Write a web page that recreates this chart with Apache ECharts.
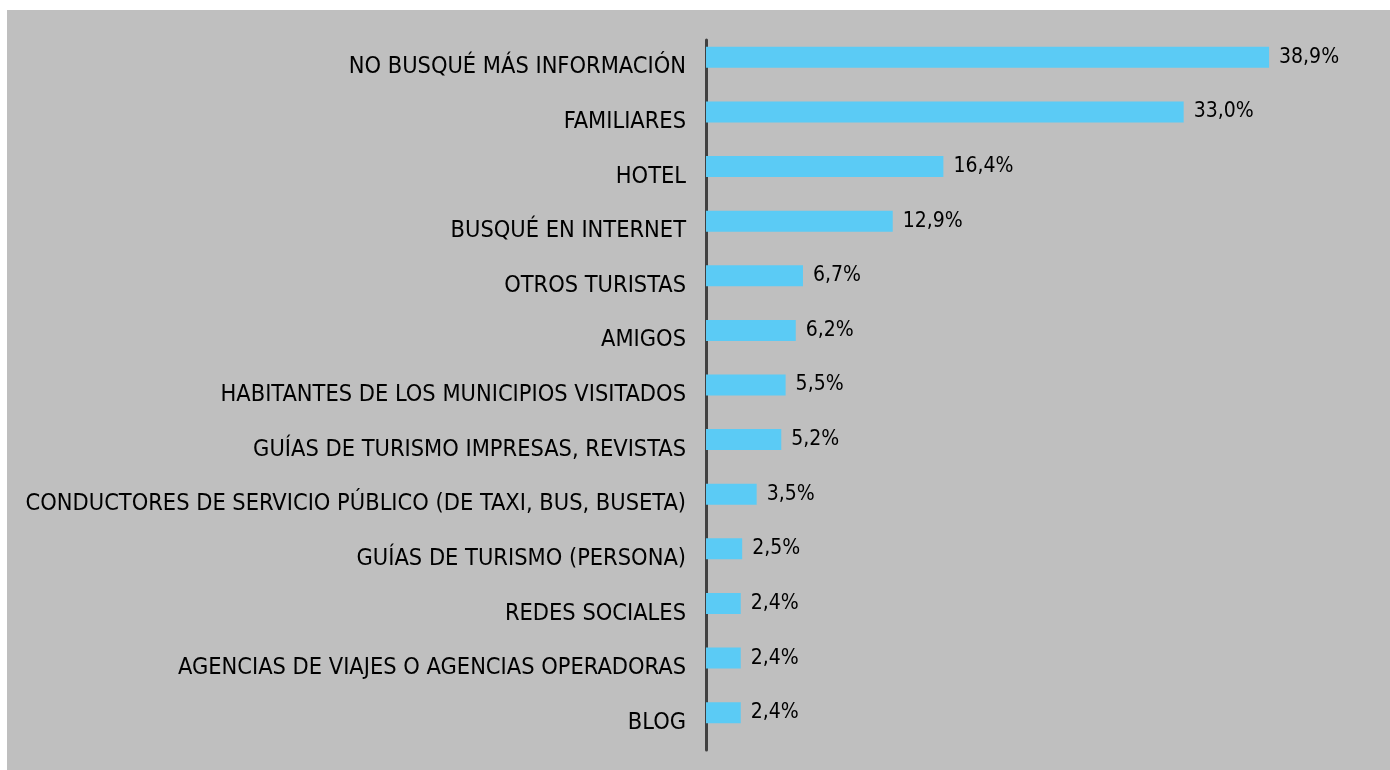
<!DOCTYPE html>
<html>
<head>
<meta charset="utf-8">
<script src="https://cdn.jsdelivr.net/npm/echarts@6/dist/echarts.min.js"></script>
<style>
  html, body { margin: 0; padding: 0; background: #ffffff; }
  #main { position: absolute; left: 7px; top: 10px; width: 1383px; height: 760px; background: #bfbfbf; }
</style>
</head>
<body>
<div id="main"></div>
<script>
// categorias, de arriba hacia abajo
var categorias = [
  'NO BUSQUÉ MÁS INFORMACIÓN',
  'FAMILIARES',
  'HOTEL',
  'BUSQUÉ EN INTERNET',
  'OTROS TURISTAS',
  'AMIGOS',
  'HABITANTES DE LOS MUNICIPIOS VISITADOS',
  'GUÍAS DE TURISMO IMPRESAS, REVISTAS',
  'CONDUCTORES DE SERVICIO PÚBLICO (DE TAXI, BUS, BUSETA)',
  'GUÍAS DE TURISMO (PERSONA)',
  'REDES SOCIALES',
  'AGENCIAS DE VIAJES O AGENCIAS OPERADORAS',
  'BLOG'
];
var porcentajes = [38.9, 33.0, 16.4, 12.9, 6.7, 6.2, 5.5, 5.2, 3.5, 2.5, 2.4, 2.4, 2.4];
// serie vacia solo para desplazar las barras hacia arriba dentro de cada categoria
var vacio = categorias.map(function () { return 0; });

var fuente = '"DejaVu Sans Condensed", "DejaVu Sans", sans-serif';

var myChart = echarts.init(document.getElementById('main'));

var option = {
  animation: false,
  grid: {
    left: 699,
    top: 30,
    width: 579,
    bottom: 20
  },
  xAxis: {
    type: 'value',
    min: 0,
    max: 40,
    show: false
  },
  yAxis: {
    type: 'category',
    inverse: true,
    data: categorias,
    axisLine: { show: true, lineStyle: { color: '#404040', width: 3 } },
    axisTick: { show: false },
    axisLabel: {
      margin: 20,
      color: '#000000',
      fontSize: 23.4,
      fontFamily: fuente
    }
  },
  series: [{
    type: 'bar',
    data: porcentajes,
    barWidth: 21,
    barGap: '0%',
    itemStyle: { color: '#5bcbf5' },
    label: {
      show: true,
      position: 'right',
      distance: 10,
      color: '#000000',
      fontSize: 21,
      fontFamily: fuente,
      formatter: function (p) { return p.value.toFixed(1).replace('.', ',') + '%'; }
    }
  }, {
    type: 'bar',
    data: vacio,
    barWidth: 20,
    silent: true,
    itemStyle: { color: 'rgba(0,0,0,0)' }
  }]
};

myChart.setOption(option);
</script>
</body>
</html>
